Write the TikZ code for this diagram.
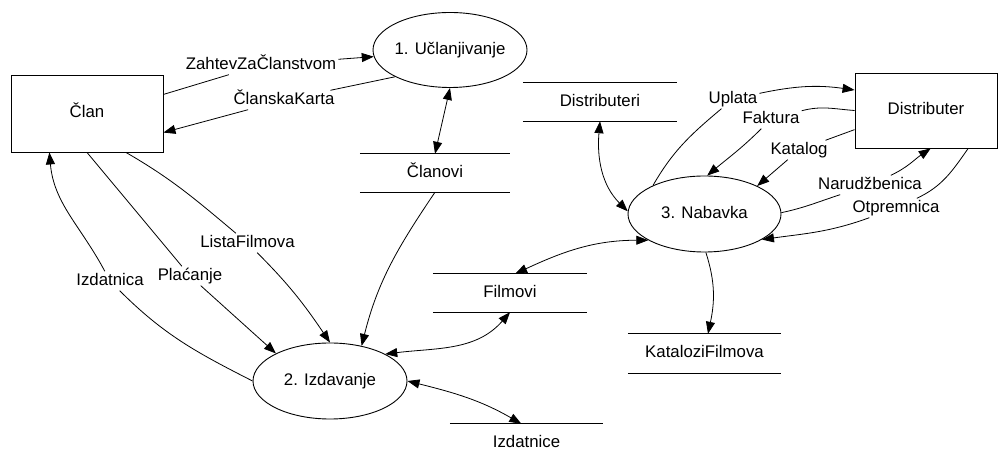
\documentclass[tikz,border=0pt]{standalone}
\usepackage{fontspec}
\setmainfont{Liberation Sans}
\usetikzlibrary{arrows.meta,shapes.geometric}
% keep the text from widening the ellipses
\newcommand{\ovaltext}[1]{\makebox[0pt][c]{#1}}
\begin{document}
\begin{tikzpicture}[x=1pt,y=1pt,
  font=\fontsize{16.8pt}{20pt}\selectfont,
  every node/.append style={text height=12pt, text depth=3pt},
  >={Triangle[length=12pt,width=9pt]},
  entity/.style={draw, line width=0.9pt, rectangle, inner sep=0pt},
  process/.style={draw, line width=0.9pt, ellipse, inner sep=0pt},
  store/.style={rectangle, inner sep=0pt},
  lbl/.style={inner sep=2pt},
  flow/.style={line width=0.8pt, ->},
  biflow/.style={line width=0.8pt, <->},
  storeline/.style={line width=0.9pt}
]
\useasboundingbox[fill=white] (0,0) rectangle (998,457);

% external entities
\node[entity, minimum width=152pt, minimum height=77pt] (clan) at (87,343.5) {Član};
\node[entity, minimum width=142pt, minimum height=75pt] (distr) at (926,346.5) {Distributer};

% processes
\node[process, minimum width=154pt, minimum height=75pt] (ucl) at (450,407) {\ovaltext{1. Učlanjivanje}};
\node[process, minimum width=154pt, minimum height=76pt] (izd) at (330,76) {\ovaltext{2. Izdavanje}};
\node[process, minimum width=153pt, minimum height=76pt] (nab) at (704.5,243) {\ovaltext{3. Nabavka}};

% data stores
\node[store, minimum width=150pt, minimum height=38pt] (clanovi) at (435,284) {Članovi};
\node[store, minimum width=154pt, minimum height=38pt] (distributeri) at (600,355) {Distributeri};
\node[store, minimum width=154pt, minimum height=38pt] (filmovi) at (510,164) {Filmovi};
\node[store, minimum width=153pt, minimum height=38pt] (izdatnice) at (526.5,14) {Izdatnice};
\node[store, minimum width=153pt, minimum height=39pt] (katalozi) at (704.5,103.5) {KataloziFilmova};
\foreach \s in {clanovi,distributeri,filmovi,katalozi}
  \draw[storeline] (\s.north west) -- (\s.north east) (\s.south west) -- (\s.south east);
\draw[storeline] (izdatnice.north west) -- (izdatnice.north east);

% flow labels
\node[lbl] (lz) at (261,392) {ZahtevZaČlanstvom};
\node[lbl] (lck) at (284,357) {ČlanskaKarta};
\node[lbl] (llista) at (247.5,214) {ListaFilmova};
\node[lbl] (lplac) at (190,181) {Plaćanje};
\node[lbl] (lizdn) at (110,176) {Izdatnica};
\node[lbl] (lupl) at (733,358) {Uplata};
\node[lbl] (lfak) at (771,338) {Faktura};
\node[lbl] (lkat) at (799,307) {Katalog};
\node[lbl] (lnar) at (870,272) {Narudžbenica};
\node[lbl] (lotp) at (896,249) {Otpremnica};

% membership
\draw[flow] (clan.14) -- (lz) -- (ucl.185);
\draw[flow] (ucl.206) -- (lck) -- (clan.-14);
\draw[biflow] (ucl.south) -- (clanovi.north);

% rental
\draw[flow] (clanovi.south) to[out=236, in=76] (izd.48);
\draw[flow] (clan.-45) to[out=-30, in=140] (llista) to[out=-45, in=124] (izd.90);
\draw[flow] (clan.south) -- (lplac) -- (izd.153);
\draw[flow] (izd.west) to[out=153, in=-45] (lizdn) to[out=118, in=-85] (clan.226);
\draw[biflow] (izd.26) to[out=7, in=229] (filmovi.south);
\draw[biflow] (izd.east) to[out=-14, in=150] (izdatnice.105);

% purchasing
\draw[biflow] (distributeri.south) to[out=-95, in=135] (nab.178);
\draw[flow] (nab.151) to[out=60, in=220] (lupl) to[out=12, in=172] (distr.164.5);
\draw[flow] (distr.west) to[out=176, in=15] (lfak) to[out=225, in=40] (nab.86);
\draw[flow] (distr.195.5) -- (lkat) -- (nab.28);
\draw[flow] (nab.1) to[out=12, in=198] (lnar) to[out=25, in=214] (distr.-83);
\draw[flow] (distr.-42) to[out=235, in=25] (lotp) to[out=200, in=8] (nab.-24);
\draw[biflow] (nab.205) to[out=180, in=25] (filmovi.75);
\draw[flow] (nab.-88) to[out=-72, in=78] (katalozi.80);
\end{tikzpicture}
\end{document}
